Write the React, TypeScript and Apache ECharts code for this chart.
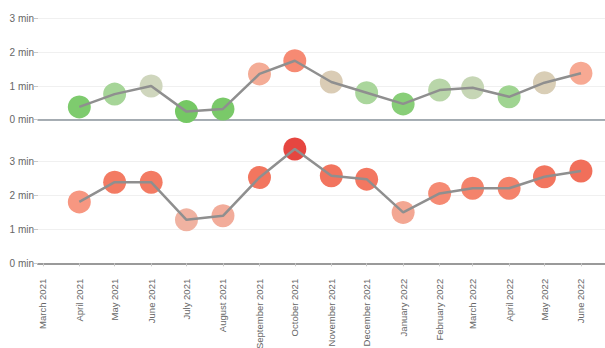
import React, { useEffect, useRef } from "react";
import * as echarts from "echarts";

// Months with data (first day of each month)
const months = [
  "2021-04", "2021-05", "2021-06", "2021-07", "2021-08", "2021-09", "2021-10",
  "2021-11", "2021-12", "2022-01", "2022-02", "2022-03", "2022-04", "2022-05", "2022-06",
];
// Upper panel (minutes)
const topValues = [0.38, 0.76, 1.0, 0.24, 0.32, 1.36, 1.75, 1.12, 0.8, 0.47, 0.88, 0.95, 0.68, 1.1, 1.38];
// Lower panel (minutes)
const bottomValues = [1.81, 2.39, 2.39, 1.28, 1.4, 2.53, 3.37, 2.58, 2.48, 1.5, 2.06, 2.21, 2.21, 2.55, 2.72];
const yTicks = [0, 1, 2, 3];
const monthNames = [
  "January", "February", "March", "April", "May", "June",
  "July", "August", "September", "October", "November", "December",
];

const toUTC = (s: string) => {
  const [y, m] = s.split("-").map(Number);
  return Date.UTC(y, m - 1, 1);
};

export default function App() {
  const ref = useRef<HTMLDivElement>(null);
  useEffect(() => {
    if (!ref.current) return;
    const chart = echarts.init(ref.current, undefined, { renderer: "svg" });
    const font = "Liberation Sans, Arial, sans-serif";
    const xMin = Date.UTC(2021, 1, 24, 22);
    const xMax = Date.UTC(2022, 5, 21, 10);
    const topData = months.map((m, i) => [toUTC(m), topValues[i]]);
    const bottomData = months.map((m, i) => [toUTC(m), bottomValues[i]]);
    const fmtX = (v: number) => {
      const d = new Date(v);
      if (d.getUTCDate() !== 1 || d.getUTCHours() !== 0) return "";
      return monthNames[d.getUTCMonth()] + " " + d.getUTCFullYear();
    };
    const baseX = {
      type: "time" as const,
      min: xMin,
      max: xMax,
      position: "bottom" as const,
      splitNumber: 16,
      minInterval: 28 * 86400000,
      maxInterval: 31 * 86400000,
      splitLine: { show: false },
    };
    const yAxisBase = {
      type: "value" as const,
      min: yTicks[0],
      max: yTicks[yTicks.length - 1],
      interval: 1,
      axisLine: { show: false },
      axisTick: { show: true, length: 4, lineStyle: { color: "#c8c8c8" } },
      axisLabel: {
        formatter: (v: number) => `${v} min`,
        color: "#666",
        fontSize: 10,
        fontFamily: font,
        margin: 4,
      },
      splitLine: { show: true, lineStyle: { color: "#f0f0f0", width: 1 } },
    };
    chart.setOption({
      animation: false,
      useUTC: true,
      backgroundColor: "#fff",
      grid: [
        { left: 38, right: 0, top: 18.7, height: 101, outerBoundsMode: "none", containLabel: false },
        { left: 38, right: 0, top: 161.5, height: 101.8, outerBoundsMode: "none", containLabel: false },
      ],
      xAxis: [
        {
          ...baseX,
          gridIndex: 0,
          axisLine: { show: true, lineStyle: { color: "#8a949c", width: 1.5 } },
          axisTick: { show: false },
          axisLabel: { show: false },
        },
        {
          ...baseX,
          gridIndex: 1,
          offset: 10.5,
          axisLine: { show: false },
          axisTick: { show: true, length: 3, lineStyle: { color: "#c8c8c8" } },
          axisLabel: {
            show: true,
            rotate: 90,
            margin: 5,
            fontSize: 9.5,
            color: "#666",
            fontFamily: font,
            formatter: fmtX,
            showMinLabel: false,
            showMaxLabel: false,
            hideOverlap: false,
          },
        },
        {
          ...baseX,
          gridIndex: 1,
          offset: 0,
          axisLine: { show: true, lineStyle: { color: "#9a9a9a", width: 2 } },
          axisTick: { show: false },
          axisLabel: { show: false },
        },
      ],
      yAxis: [
        { ...yAxisBase, gridIndex: 0 },
        { ...yAxisBase, gridIndex: 1 },
      ],
      visualMap: [
        {
          type: "continuous",
          show: false,
          seriesIndex: 0,
          dimension: 1,
          min: 0.2,
          max: 1.8,
          inRange: {
            color: [
              "#72c761", "#7fcb6f", "#98d389", "#aad69c", "#cfd6bd",
              "#e2c5af", "#f9a690", "#f89a84", "#f5856d",
            ],
          },
        },
        {
          type: "continuous",
          show: false,
          seriesIndex: 2,
          dimension: 1,
          min: 1.2,
          max: 3.4,
          inRange: { color: ["#efb6a6", "#f79a84", "#f47e66", "#f06a56", "#e5443f"] },
        },
      ],
      series: [
        {
          type: "scatter",
          xAxisIndex: 0,
          yAxisIndex: 0,
          data: topData,
          symbolSize: 23,
          itemStyle: { opacity: 1 },
          z: 2,
          clip: false,
        },
        {
          type: "line",
          xAxisIndex: 0,
          yAxisIndex: 0,
          data: topData,
          showSymbol: false,
          symbol: "none",
          lineStyle: { color: "#8f8f8f", width: 2.5 },
          z: 3,
          clip: false,
        },
        {
          type: "scatter",
          xAxisIndex: 2,
          yAxisIndex: 1,
          data: bottomData,
          symbolSize: 23,
          itemStyle: { opacity: 1 },
          z: 2,
          clip: false,
        },
        {
          type: "line",
          xAxisIndex: 2,
          yAxisIndex: 1,
          data: bottomData,
          showSymbol: false,
          symbol: "none",
          lineStyle: { color: "#8f8f8f", width: 2.5 },
          z: 3,
          clip: false,
        },
      ],
    });
    return () => chart.dispose();
  }, []);
  return (
    <div
      ref={ref}
      style={{ position: "fixed", left: 0, top: 0, width: 605, height: 348 }}
    />
  );
}
